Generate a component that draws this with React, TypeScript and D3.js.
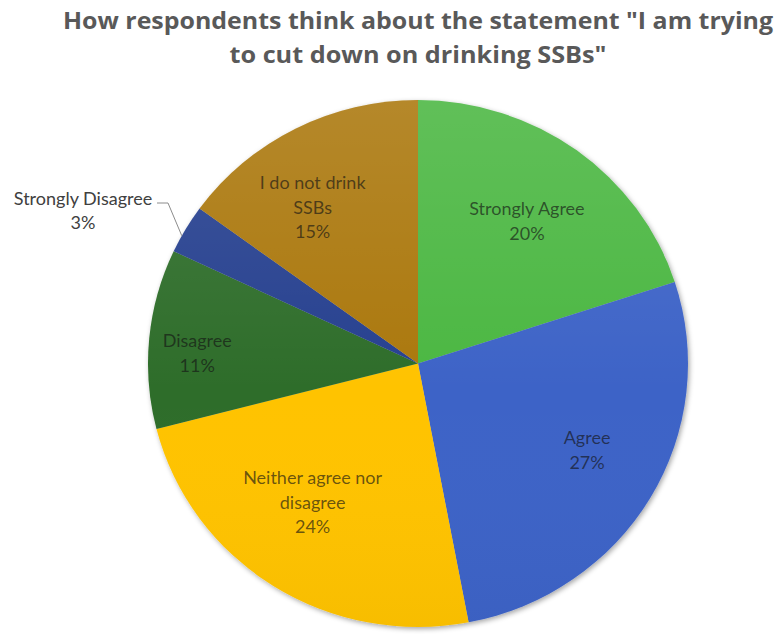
import React from "react";
import * as d3 from "d3";

const categories = [
  "Strongly Agree",
  "Agree",
  "Neither agree nor disagree",
  "Disagree",
  "Strongly Disagree",
  "I do not drink SSBs",
];
const values = [20, 27, 24, 11, 3, 15];
const labelLines = [
  ["Strongly Agree"],
  ["Agree"],
  ["Neither agree nor", "disagree"],
  ["Disagree"],
  ["Strongly Disagree"],
  ["I do not drink", "SSBs"],
];
const colors = ["#4BB743", "#3E64C7", "#FFC300", "#2E6D29", "#27418F", "#AB780C"];
const titleLines = [
  "How respondents think about the statement \"I am trying",
  "to cut down on drinking SSBs\"",
];

// layout constants
const W = 778;
const H = 634;
const CX = 418;
const CY = 363.5;
const R = 270;
const SY = 0.976;
const LABEL_R = 0.68;
const nudges: [number, number][] = [
  [1, 2],
  [11, -5],
  [-7, -13],
  [-38, 6],
  [0, 0],
  [-22, 3],
];
const titleWidths = [710, 377];
const LINE_H = 24.5;

export default function App() {
  const pie = d3
    .pie<number>()
    .sort(null)
    .value((d) => d)
    .startAngle(0)
    .endAngle(2 * Math.PI);
  const arcs = pie(values);
  const arc = d3.arc<d3.PieArcDatum<number>>().innerRadius(0).outerRadius(R);
  const total = d3.sum(values);

  const toScreen = (angle: number, rad: number): [number, number] => [
    CX + rad * Math.sin(angle),
    CY - SY * rad * Math.cos(angle),
  ];

  return (
    <svg
      width={W}
      height={H}
      style={{ position: "absolute", left: 0, top: 0, display: "block", background: "#fff" }}
      fontFamily="Lato, 'Open Sans', sans-serif"
    >
      <defs>
        <filter id="shadow" x="-10%" y="-10%" width="120%" height="120%">
          <feDropShadow dx="1.5" dy="2" stdDeviation="2.5" floodColor="#000" floodOpacity="0.35" />
        </filter>
        <linearGradient id="sheen" x1="0" y1="0" x2="0" y2="1">
          <stop offset="0" stopColor="#fff" stopOpacity="0.12" />
          <stop offset="0.55" stopColor="#fff" stopOpacity="0.0" />
          <stop offset="1" stopColor="#000" stopOpacity="0.03" />
        </linearGradient>
      </defs>
      {titleLines.map((t, i) => (
        <text
          key={i}
          x={CX}
          y={29 + i * 34}
          textAnchor="middle"
          fontFamily="'Open Sans', sans-serif"
          fontSize={23}
          fontWeight="bold"
          fill="#595959"
          textLength={titleWidths[i]}
          lengthAdjust="spacingAndGlyphs"
        >
          {t}
        </text>
      ))}
      <g transform={`translate(${CX},${CY}) scale(1,${SY})`}>
        <g filter="url(#shadow)">
          {arcs.map((a, i) => (
            <path key={i} d={arc(a) || ""} fill={colors[i]} />
          ))}
        </g>
        <circle r={R} fill="url(#sheen)" />
      </g>
      {arcs.map((a, i) => {
        const pct = Math.round((values[i] / total) * 100) + "%";
        const lines = [...labelLines[i], pct];
        const mid = (a.startAngle + a.endAngle) / 2;
        if (i === 4) {
          const edge = toScreen(a.startAngle + 0.35 * (a.endAngle - a.startAngle), R);
          const lx = 83;
          const ly = 210;
          return (
            <g key={i}>
              <polyline
                points={`${lx + 74},${ly - 7} ${lx + 85},${ly - 7} ${edge[0]},${edge[1]}`}
                fill="none"
                stroke="#8c8c8c"
                strokeWidth={1}
              />
              {lines.map((l, j) => (
                <text
                  key={j}
                  x={lx}
                  y={ly + (j - (lines.length - 1) / 2) * LINE_H}
                  textAnchor="middle"
                  dominantBaseline="central"
                  fontSize={18}
                  fill="#404040"
                >
                  {l}
                </text>
              ))}
            </g>
          );
        }
        const [bx, by] = toScreen(mid, R * LABEL_R);
        const x = bx + nudges[i][0];
        const y = by + nudges[i][1];
        return (
          <g key={i}>
            {lines.map((l, j) => (
              <text
                key={j}
                x={x}
                y={y + (j - (lines.length - 1) / 2) * LINE_H}
                textAnchor="middle"
                dominantBaseline="central"
                fontSize={18}
                fill="#141414"
                fillOpacity={0.65}
              >
                {l}
              </text>
            ))}
          </g>
        );
      })}
    </svg>
  );
}
